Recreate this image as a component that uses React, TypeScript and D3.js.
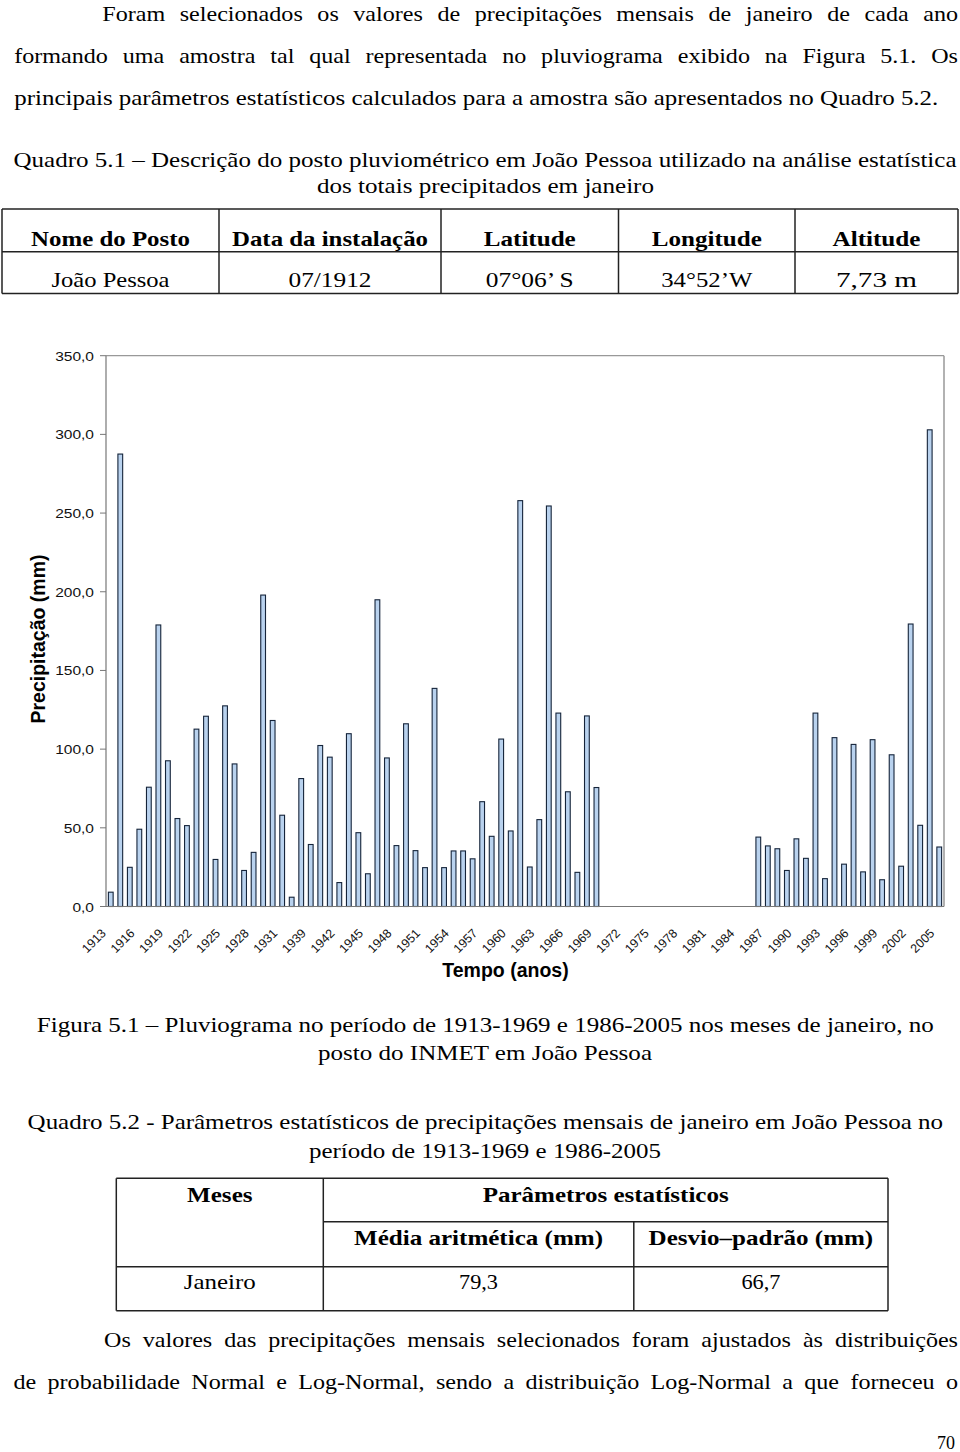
import React from "react";
import * as d3 from "d3";

const W = 960;
const H = 1452;
const SERIF_NAME = "Liberation Serif";
const SERIF = "Liberation Serif, Times New Roman, Times, Tinos, Nimbus Roman, FreeSerif, serif";
const SANS = "Liberation Sans, Arial, Helvetica, sans-serif";
const FS = 21.5; // body text size
const WORD_STRETCH = 1.12; // fallback serif is narrower than the page's Times at this size

// categories: 1913-1931, two isolated years, 1939-2005 (1970-1985 without data)
const yearsA = d3.range(1913, 1932);
const yearsB = [1937, 1938];
const yearsC = d3.range(1939, 2006);
const years = [...yearsA, ...yearsB, ...yearsC];

// January totals (mm)
const rainA = [
  9.1, 287.5, 24.9, 49.1, 75.8, 178.9, 92.6, 55.9, 51.4, 112.7, 120.9, 29.9,
  127.5, 90.6, 22.9, 34.4, 197.9, 118.2, 58.0,
];
const rainB = [5.9, 81.3];
const rain1939to1969 = [
  39.4, 102.3, 94.9, 15.2, 109.8, 46.9, 20.8, 194.9, 94.4, 38.7, 116.1, 35.5,
  24.7, 138.6, 24.7, 35.3, 35.3, 30.3, 66.6, 44.6, 106.4, 48.0, 257.9, 25.1,
  55.2, 254.5, 122.9, 72.9, 21.7, 121.1, 75.6,
];
const rainGap = new Array(16).fill(null); // 1970-1985
const rain1986to2005 = [
  44.1, 38.5, 36.7, 22.9, 43.0, 30.6, 122.9, 17.7, 107.3, 26.9, 103.0, 22.0,
  106.0, 17.0, 96.4, 25.6, 179.5, 51.6, 302.9, 37.8,
];
const rain: (number | null)[] = [...rainA, ...rainB, ...rain1939to1969, ...rainGap, ...rain1986to2005];

const postoHeaders = ["Nome do Posto", "Data da instalação", "Latitude", "Longitude", "Altitude"];
const postoHeaderWidths = [159, 196, 92, 110, 88];
const postoRow = ["João Pessoa", "07/1912", "07°06’ S", "34°52’W", "7,73 m"];
const postoRowWidths = [118, 83, 88, 91, 81];
const postoCols = [2, 219, 441, 618.5, 795, 958];

const PLOT = { left: 106, right: 944, top: 355.7, bottom: 906.5 };

let ctx: CanvasRenderingContext2D | null = null;
function measure(text: string, size: number, bold = false) {
  if (!ctx) ctx = document.createElement("canvas").getContext("2d");
  if (!ctx) return text.length * size * 0.45;
  ctx.font = `${bold ? "bold " : ""}${size}px "${SERIF_NAME}", "Times New Roman", serif`;
  return ctx.measureText(text).width;
}

function Justified({ x, y, width, text, size = FS }) {
  const words = text.split(" ");
  const widths = words.map((w) => measure(w, size) * WORD_STRETCH);
  const gap = (width - d3.sum(widths)) / (words.length - 1);
  let cx = x;
  return (
    <text y={y} fontFamily={SERIF} fontSize={size} fill="#000">
      {words.map((w, i) => {
        const px = cx;
        cx += widths[i] + gap;
        return (
          <tspan key={i} x={px} textLength={widths[i]} lengthAdjust="spacingAndGlyphs">
            {w}
          </tspan>
        );
      })}
    </text>
  );
}

function Line({ x, y, text, width, anchor = "start", bold = false, size = FS }) {
  return (
    <text
      x={x}
      y={y}
      textAnchor={anchor}
      fontFamily={SERIF}
      fontSize={size}
      fontWeight={bold ? "bold" : "normal"}
      textLength={width}
      lengthAdjust={width ? "spacingAndGlyphs" : undefined}
      fill="#000"
    >
      {text}
    </text>
  );
}

function Chart() {
  const x = d3
    .scaleBand<number>()
    .domain(years)
    .range([PLOT.left, PLOT.right])
    .paddingInner(0.5)
    .paddingOuter(0.25);
  const y = d3.scaleLinear().domain([0, 350]).range([PLOT.bottom, PLOT.top]);
  const yTicks = y.ticks(7);
  const fmt = (v: number) => d3.format(".1f")(v).replace(".", ",");
  const bw = x.bandwidth();

  return (
    <g>
      <line x1={PLOT.left} x2={PLOT.right} y1={PLOT.top} y2={PLOT.top} stroke="#999" strokeWidth={1.2} />
      <line x1={PLOT.right} x2={PLOT.right} y1={PLOT.top} y2={PLOT.bottom} stroke="#999" strokeWidth={1.5} />

      {yTicks.map((t) => (
        <g key={t}>
          <line x1={PLOT.left - 6} x2={PLOT.left} y1={y(t)} y2={y(t)} stroke="#777" />
          <g transform={`translate(94,${y(t) + 5}) scale(1.15,1)`}>
            <text textAnchor="end" fontFamily={SANS} fontSize={13.5} fill="#111">
              {fmt(t)}
            </text>
          </g>
        </g>
      ))}

      {years.map((yr, i) =>
        rain[i] == null ? null : (
          <rect
            key={yr}
            x={x(yr)}
            y={y(rain[i] as number)}
            width={bw}
            height={y(0) - y(rain[i] as number)}
            fill="#b9d2ee"
            stroke="#15243a"
            strokeWidth={1.1}
          />
        ),
      )}

      <line x1={PLOT.left} x2={PLOT.left} y1={PLOT.top} y2={PLOT.bottom} stroke="#777" strokeWidth={1.2} />
      <line x1={PLOT.left} x2={PLOT.right} y1={PLOT.bottom} y2={PLOT.bottom} stroke="#777" strokeWidth={1.2} />

      {years.map((yr, i) =>
        i % 3 === 0 ? (
          <text
            key={`l-${yr}`}
            transform={`translate(${(x(yr) as number) + bw / 2 - 4},934) rotate(-45)`}
            textAnchor="end"
            fontFamily={SANS}
            fontSize={12.5}
            fill="#111"
          >
            {yr}
          </text>
        ) : null,
      )}

      <text
        transform={`translate(45,639) rotate(-90)`}
        textAnchor="middle"
        fontFamily={SANS}
        fontSize={19.5}
        fontWeight="bold"
        fill="#000"
      >
        Precipitação (mm)
      </text>
      <text x={505.5} y={977.3} textAnchor="middle" fontFamily={SANS} fontSize={19.5} fontWeight="bold" fill="#000">
        Tempo (anos)
      </text>
    </g>
  );
}

export default function App() {
  return (
    <div style={{ position: "absolute", left: 0, top: 0, width: W, height: H, background: "#fff" }}>
      <svg width={W} height={H} viewBox={`0 0 ${W} ${H}`} style={{ display: "block" }}>
        <rect width={W} height={H} fill="#fff" />

        <Justified x={102.3} y={20.7} width={958 - 102.3} text="Foram selecionados os valores de precipitações mensais de janeiro de cada ano" />
        <Justified x={14.3} y={63.3} width={958 - 14.3} text="formando uma amostra tal qual representada no pluviograma exibido na Figura 5.1. Os" />
        <Line x={14.3} y={105} width={924} text="principais parâmetros estatísticos calculados para a amostra são apresentados no Quadro 5.2." />

        <Line x={485} y={166.5} anchor="middle" width={943} text="Quadro 5.1 – Descrição do posto pluviométrico em João Pessoa utilizado na análise estatística" />
        <Line x={485.5} y={192.5} anchor="middle" width={337} text="dos totais precipitados em janeiro" />

        {/* Quadro 5.1 table */}
        <g stroke="#222" strokeWidth={1.5}>
          {[209, 251.7, 293.5].map((ly) => (
            <line key={ly} x1={2} x2={958} y1={ly} y2={ly} />
          ))}
          {postoCols.map((cx) => (
            <line key={cx} x1={cx} x2={cx} y1={209} y2={293.5} />
          ))}
        </g>
        {postoHeaders.map((h, i) => (
          <Line key={h} x={(postoCols[i] + postoCols[i + 1]) / 2} y={246} anchor="middle" bold width={postoHeaderWidths[i]} text={h} />
        ))}
        {postoRow.map((v, i) => (
          <Line key={v} x={(postoCols[i] + postoCols[i + 1]) / 2} y={287.3} anchor="middle" width={postoRowWidths[i]} text={v} />
        ))}

        <Chart />

        <Line x={485.3} y={1031.7} anchor="middle" width={897} text="Figura 5.1 – Pluviograma no período de 1913-1969 e 1986-2005 nos meses de janeiro, no" />
        <Line x={485} y={1060} anchor="middle" width={334} text="posto do INMET em João Pessoa" />

        <Line x={485.3} y={1129.3} anchor="middle" width={915.4} text="Quadro 5.2 - Parâmetros estatísticos de precipitações mensais de janeiro em João Pessoa no" />
        <Line x={485} y={1158.3} anchor="middle" width={352} text="período de 1913-1969 e 1986-2005" />

        {/* Quadro 5.2 table */}
        <g stroke="#222" strokeWidth={1.5}>
          <line x1={116.3} x2={888} y1={1178.3} y2={1178.3} />
          <line x1={323.3} x2={888} y1={1221.7} y2={1221.7} />
          <line x1={116.3} x2={888} y1={1266.7} y2={1266.7} />
          <line x1={116.3} x2={888} y1={1310.7} y2={1310.7} />
          <line x1={116.3} x2={116.3} y1={1178.3} y2={1310.7} />
          <line x1={323.3} x2={323.3} y1={1178.3} y2={1310.7} />
          <line x1={633.8} x2={633.8} y1={1221.7} y2={1310.7} />
          <line x1={888} x2={888} y1={1178.3} y2={1310.7} />
        </g>
        <Line x={219.8} y={1201.7} anchor="middle" bold width={65.5} text="Meses" />
        <Line x={605.7} y={1201.7} anchor="middle" bold width={246} text="Parâmetros estatísticos" />
        <Line x={478.5} y={1245} anchor="middle" bold width={249} text="Média aritmética (mm)" />
        <Line x={760.9} y={1245} anchor="middle" bold width={224.6} text="Desvio–padrão (mm)" />
        <Line x={219.8} y={1289.3} anchor="middle" width={72} text="Janeiro" />
        <Line x={478.5} y={1289.3} anchor="middle" width={39} text="79,3" />
        <Line x={760.9} y={1289.3} anchor="middle" width={39} text="66,7" />

        <Justified x={104} y={1346.7} width={958 - 104} text="Os valores das precipitações mensais selecionados foram ajustados às distribuições" />
        <Justified x={13.5} y={1389.3} width={958 - 13.5} text="de probabilidade Normal e Log-Normal, sendo a distribuição Log-Normal a que forneceu o" />

        <Line x={955} y={1449} anchor="end" size={18} text="70" />
      </svg>
    </div>
  );
}
